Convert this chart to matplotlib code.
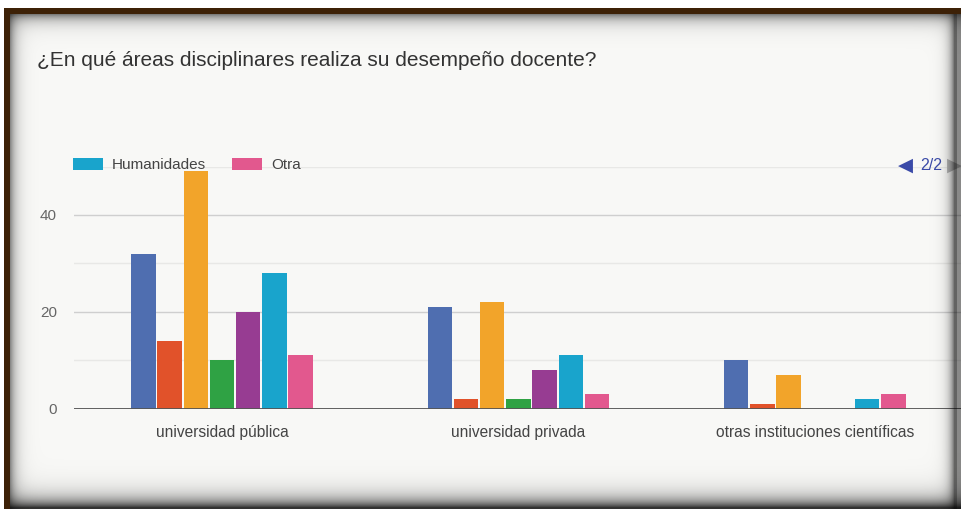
import numpy as np
import matplotlib
matplotlib.use("Agg")
import matplotlib.pyplot as plt

plt.rcParams['font.family'] = ['Liberation Sans', 'DejaVu Sans']

# Datos por categoría
categorias = ["universidad pública", "universidad privada", "otras instituciones científicas"]
serie_1 = [32, 21, 10]
serie_2 = [14, 2, 1]
serie_3 = [49, 22, 7]
serie_4 = [10, 2, 0]
serie_5 = [20, 8, 0]
humanidades = [28, 11, 2]
otra = [11, 3, 3]

series = [serie_1, serie_2, serie_3, serie_4, serie_5, humanidades, otra]
colores = ["#4f6eb0", "#e1522a", "#f2a42a", "#2fa244", "#973c92", "#19a4cc", "#e2588e"]

W, H = 961, 509
fig = plt.figure(figsize=(W / 100, H / 100), dpi=100, facecolor="#f8f8f6")

ax = fig.add_axes([73.75 / W, (H - 408.5) / H, (963 - 73.75) / W, 242 / H])
ax.set_facecolor("#f8f8f6")

x = np.arange(len(categorias))
paso = 26.2 / 296.5
ancho = 24.5 / 296.5
barras = []
for i, (vals, col) in enumerate(zip(series, colores)):
    b = ax.bar(x + (i - 3) * paso, vals, ancho, color=col, zorder=3)
    barras.append(b)

ax.set_xlim(-0.5, 2.5)
ax.set_ylim(0, 50)
ax.set_yticks([0, 20, 40])
ax.set_yticks([10, 30, 50], minor=True)
ax.grid(axis="y", which="major", color="#cfcfcf", lw=1.0, zorder=0)
ax.grid(axis="y", which="minor", color="#e8e8e6", lw=1.0, zorder=0)
ax.axhline(0, color="#555555", lw=1.3, zorder=4)
for s in ax.spines.values():
    s.set_visible(False)
ax.tick_params(axis="y", which="both", length=0, pad=12, labelsize=11, labelcolor="#666666")
ax.set_xticks(x)
ax.set_xticklabels(categorias)
ax.tick_params(axis="x", length=0, pad=12, labelsize=11.2, labelcolor="#444444")

# Leyenda: solo la segunda página
handles = [barras[5], barras[6]]
fig.legend(handles, ["Humanidades", "Otra"], loc="center left",
           bbox_to_anchor=(73 / W, 1 - 165 / H), ncol=2, frameon=False,
           fontsize=11, labelcolor="#444444", borderpad=0, borderaxespad=0,
           handlelength=1.96, handleheight=0.85, handletextpad=0.59,
           columnspacing=1.7)

fig.text(37 / W, 1 - 60 / H, "¿En qué áreas disciplinares realiza su desempeño docente?",
         fontsize=15, color="#333333", va="center", ha="left")

# Paginador de la leyenda
fig.text(898 / W, 1 - 165 / H, "◀", family="DejaVu Sans", fontsize=14,
         color="#3a4aa8", va="center", ha="left")
fig.text(920 / W, 1 - 165 / H, "2/2", fontsize=11.5, color="#3a4aa8", va="center", ha="left")
fig.text(947 / W, 1 - 165 / H, "▶", family="DejaVu Sans", fontsize=14,
         color="#b5b5b5", va="center", ha="left")

# Marco con sombra interior
yy, xx = np.mgrid[0:H, 0:W].astype(float)
s_top = np.where(yy >= 14, 0.5 * np.exp(-np.clip(yy - 14, 0, None) / 7), 0)
s_left = np.where(xx >= 10, 0.45 * np.exp(-np.clip(xx - 10, 0, None) / 6), 0)
s_right = 0.6 * np.exp(-np.clip(954 - xx, 0, None) / 5)
s_right = np.where(xx > 956, 0.45, s_right)
s_bot = 0.8 * np.exp(-np.clip(507 - yy, 0, None) / 9)
s = 1 - (1 - s_top) * (1 - s_left) * (1 - s_right) * (1 - s_bot)

overlay = np.zeros((H, W, 4))
overlay[..., 3] = s
marron = np.array([0.24, 0.13, 0.03])
borde = ((yy >= 8) & (yy < 14) & (xx >= 4)) | ((xx >= 4) & (xx < 10) & (yy >= 8))
overlay[borde, :3] = marron
overlay[borde, 3] = 1
blanco = (yy < 8) | (xx < 4)
overlay[blanco] = [1, 1, 1, 1]

ov = fig.add_axes([0, 0, 1, 1], zorder=10)
ov.imshow(overlay, extent=(0, W, H, 0), interpolation="bilinear", aspect="auto")
ov.set_axis_off()

fig.savefig("out.png", dpi=100, facecolor=fig.get_facecolor())
